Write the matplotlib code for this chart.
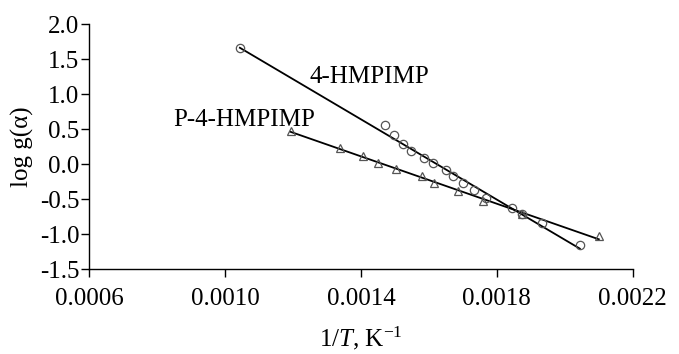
import numpy as np
import matplotlib
matplotlib.use("Agg")
import matplotlib.pyplot as plt

plt.rcParams["font.family"] = ["Liberation Serif", "DejaVu Serif"]
plt.rcParams["mathtext.fontset"] = "custom"
plt.rcParams["mathtext.rm"] = "Liberation Serif"
plt.rcParams["mathtext.it"] = "Liberation Serif:italic"

# 4-HMPIMP (circles)
x_mono = [0.001044, 0.001471, 0.001498, 0.001525, 0.001546, 0.001585, 0.001611,
          0.001650, 0.001672, 0.001699, 0.001734, 0.001768, 0.001845, 0.001873,
          0.001933, 0.002044]
y_mono = [1.657, 0.562, 0.414, 0.286, 0.186, 0.081, 0.010,
          -0.086, -0.171, -0.267, -0.371, -0.486, -0.633, -0.714,
          -0.838, -1.152]

# P-4-HMPIMP (triangles)
x_poly = [0.001193, 0.001338, 0.001405, 0.001449, 0.001503, 0.001581, 0.001615,
          0.001686, 0.001760, 0.001875, 0.002100]
y_poly = [0.476, 0.224, 0.116, 0.019, -0.076, -0.171, -0.276,
          -0.386, -0.529, -0.719, -1.030]

x_ticks = [0.0006, 0.0010, 0.0014, 0.0018, 0.0022]
y_ticks = [-1.5, -1.0, -0.5, 0.0, 0.5, 1.0, 1.5, 2.0]

fig = plt.figure(figsize=(6.79, 3.54), dpi=100)
ax = fig.add_axes([0.131, 0.240, 0.801, 0.692])

# straight fit line through each series plus open markers
for xs, ys, mk in [(x_mono, y_mono, "o"), (x_poly, y_poly, "^")]:
    xs = np.array(xs)
    ys = np.array(ys)
    k, b = np.polyfit(xs, ys, 1)
    xl = np.array([xs.min(), xs.max()])
    ax.plot(xl, k * xl + b, color="black", lw=1.3, zorder=2)
    ax.plot(xs, ys, mk, ms=6, mfc="none", mec="#555555", mew=0.9, zorder=3)

ax.text(0.00125, 1.243, "4-HMPIMP", fontsize=18, va="center", ha="left")
ax.text(0.000847, 0.636, "P-4-HMPIMP", fontsize=18, va="center", ha="left")

ax.set_xlim(0.0006, 0.0022)
ax.set_ylim(-1.5, 2.0)
ax.set_xticks(x_ticks)
ax.set_xticklabels([f"{v:.4f}" for v in x_ticks])
ax.set_yticks(y_ticks)
ax.set_yticklabels([f"{v:.1f}" for v in y_ticks])
ax.tick_params(labelsize=18, length=6, width=1, direction="out")
ax.tick_params(axis="x", pad=8)
ax.tick_params(axis="y", pad=1)

for s in ["top", "right"]:
    ax.spines[s].set_visible(False)
for s in ["left", "bottom"]:
    ax.spines[s].set_linewidth(1)

ax.set_xlabel(r"1/$T$, K$^{\mathregular{-1}}$", fontsize=18, labelpad=10)
ax.set_ylabel("log g(α)", fontsize=18, labelpad=4)

fig.savefig("out.png", dpi=100)
